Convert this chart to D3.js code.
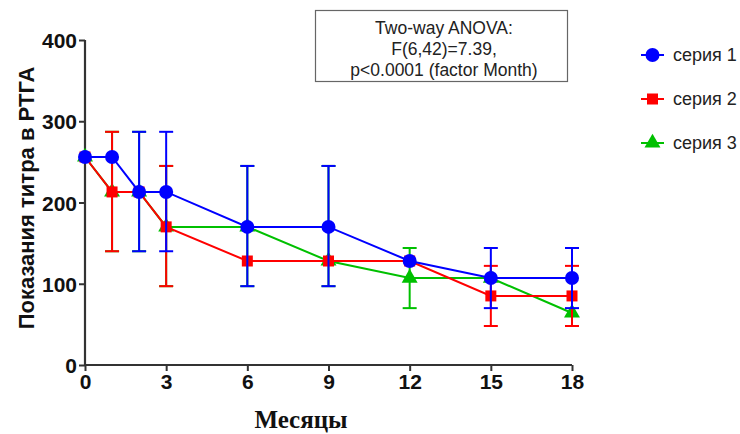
<!DOCTYPE html>
<html><head><meta charset="utf-8">
<script src="https://cdn.jsdelivr.net/npm/d3@7"></script>
<style>body{margin:0;background:#fff}svg{display:block}</style>
</head><body>
<svg id="c" width="740" height="434"></svg>
<script>
const months = [0, 1, 2, 3, 6, 9, 12, 15, 18];
const xTicks = [0, 3, 6, 9, 12, 15, 18];
const yTicks = [0, 100, 200, 300, 400];
const seriesNames = ["серия 1", "серия 2", "серия 3"];
const s1 = [256, 256, 213, 213, 170, 170, 128, 107, 107];
const s1Lo = [null, null, 140, 140, 97, 97, null, 70, 70];
const s1Hi = [null, null, 287, 287, 245, 245, null, 144, 144];
const s2 = [256, 213, 213, 170, 128, 128, 128, 85, 85];
const s2Lo = [null, 140, null, 97, null, null, null, 48, 48];
const s2Hi = [null, 287, null, 245, null, null, null, 122, 122];
const s3 = [256, 213, 213, 170, 170, 128, 107, 107, 64];
const s3Lo = [null, 140, 140, 97, 97, 97, 70, null, null];
const s3Hi = [null, 287, 287, 245, 245, 245, 144, null, null];
const annotation = ["Two-way ANOVA:", "F(6,42)=7.39,", "p<0.0001 (factor Month)"];

const svg = d3.select("#c");
const x = d3.scaleLinear().domain([0, 18]).range([85, 572]);
const y = d3.scaleLinear().domain([0, 400]).range([365, 40]);

const series = [
  {name: seriesNames[0], v: s1, lo: s1Lo, hi: s1Hi, color: "#0000ff", shape: "circle"},
  {name: seriesNames[1], v: s2, lo: s2Lo, hi: s2Hi, color: "#ff0000", shape: "square"},
  {name: seriesNames[2], v: s3, lo: s3Lo, hi: s3Hi, color: "#00c000", shape: "triangle"}
];

const axisColor = "#333";
const xAxis = svg.append("g").attr("transform", "translate(0,365)")
  .call(d3.axisBottom(x).tickValues(xTicks).tickSize(6).tickPadding(3));
const yAxis = svg.append("g").attr("transform", "translate(85,0)")
  .call(d3.axisLeft(y).tickValues(yTicks).tickSize(6).tickPadding(2));
[xAxis, yAxis].forEach(a => {
  a.select(".domain").attr("stroke", axisColor).attr("stroke-width", 2.2);
  a.selectAll(".tick line").attr("stroke", axisColor).attr("stroke-width", 2);
  a.selectAll("text").attr("fill", "#111").style("font-family", "Liberation Sans, Arial, sans-serif")
    .style("font-weight", "bold").style("font-size", "21px");
});
xAxis.select(".domain").attr("d", "M85,0H572");
yAxis.select(".domain").attr("d", "M0,40V365");
yAxis.selectAll("text").attr("dy", "0.36em");

svg.append("text").attr("transform", "translate(34,198) rotate(-90)")
  .attr("text-anchor", "middle").style("font-family", "Liberation Sans, Arial, sans-serif")
  .style("font-weight", "bold").style("font-size", "22px").attr("fill", "#111")
  .text("Показания титра в РТГА");
svg.append("text").attr("x", 301).attr("y", 428).attr("text-anchor", "middle")
  .style("font-family", "Liberation Serif, Times New Roman, serif").style("font-weight", "bold")
  .style("font-size", "25px").attr("fill", "#111").text("Месяцы");

function marker(g, shape, color, cx, cy) {
  if (shape === "circle") g.append("circle").attr("cx", cx).attr("cy", cy).attr("r", 7).attr("fill", color);
  else if (shape === "square") g.append("rect").attr("x", cx - 5.5).attr("y", cy - 5.5).attr("width", 11).attr("height", 11).attr("fill", color);
  else g.append("path").attr("d", d3.symbol(d3.symbolTriangle, 110)()).attr("transform", `translate(${cx},${cy})`).attr("fill", color);
}

[2, 1, 0].forEach(i => {
  const s = series[i];
  const g = svg.append("g");
  months.forEach((m, j) => {
    if (s.lo[j] == null) return;
    const cx = x(m);
    g.append("line").attr("x1", cx).attr("x2", cx).attr("y1", y(s.lo[j])).attr("y2", y(s.hi[j]))
      .attr("stroke", s.color).attr("stroke-width", 2);
    [s.lo[j], s.hi[j]].forEach(v => g.append("line").attr("x1", cx - 7).attr("x2", cx + 7)
      .attr("y1", y(v)).attr("y2", y(v)).attr("stroke", s.color).attr("stroke-width", 2));
  });
  const line = d3.line().x((d, j) => x(months[j])).y(d => y(d));
  g.append("path").attr("d", line(s.v)).attr("fill", "none").attr("stroke", s.color).attr("stroke-width", 2);
  months.forEach((m, j) => marker(g, s.shape, s.color, x(m), y(s.v[j])));
});

svg.append("rect").attr("x", 315.5).attr("y", 10.5).attr("width", 252).attr("height", 71)
  .attr("fill", "#fff").attr("stroke", "#666").attr("stroke-width", 1.2);
annotation.forEach((t, k) => svg.append("text").attr("x", 444).attr("y", 34 + k * 21)
  .attr("text-anchor", "middle").style("font-family", "Liberation Sans, Arial, sans-serif")
  .style("font-size", "17.5px").attr("fill", "#222").text(t));

series.forEach((s, i) => {
  const ly = 55 + i * 44;
  const g = svg.append("g");
  g.append("line").attr("x1", 641).attr("x2", 664).attr("y1", ly).attr("y2", ly).attr("stroke", s.color).attr("stroke-width", 2);
  marker(g, s.shape, s.color, 652.5, ly);
  g.append("text").attr("x", 673).attr("y", ly + 6).style("font-family", "Liberation Sans, Arial, sans-serif")
    .style("font-size", "18px").attr("fill", "#222").text(s.name);
});
</script>
</body></html>
